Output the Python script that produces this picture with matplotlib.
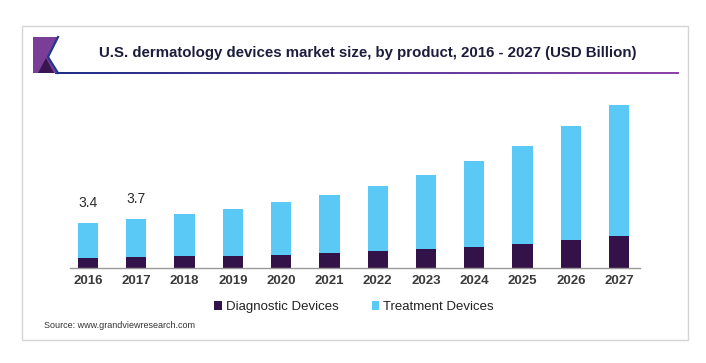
import numpy as np
import matplotlib.pyplot as plt
from matplotlib.patches import Rectangle, Polygon
from matplotlib.colors import LinearSegmentedColormap

# data (USD Billion)
years = ["2016", "2017", "2018", "2019", "2020", "2021",
         "2022", "2023", "2024", "2025", "2026", "2027"]
diagnostic = [0.73, 0.80, 0.88, 0.93, 1.00, 1.13,
              1.28, 1.43, 1.62, 1.83, 2.15, 2.43]
totals = [3.4, 3.7, 4.08, 4.46, 5.0, 5.5,
          6.2, 7.0, 8.05, 9.2, 10.7, 12.35]
treatment = [t - d for t, d in zip(totals, diagnostic)]
labelled = {0: "3.4", 1: "3.7"}

W, H = 706, 363
plt.rcParams['font.family'] = ['Liberation Sans', 'DejaVu Sans']
fig = plt.figure(figsize=(W / 100, H / 100), dpi=100)


def fx(px):
    return px / W


def fy(py):
    return 1 - py / H


# card with border
fig.patches.append(Rectangle((fx(22), fy(340)), fx(666), (340 - 26) / H,
                             transform=fig.transFigure, facecolor="white",
                             edgecolor="#d4d4d4", linewidth=1.0, zorder=-5))

# logo
fig.patches.append(Polygon([(fx(33), fy(37)), (fx(58), fy(37)), (fx(48), fy(57)),
                            (fx(58), fy(73)), (fx(33), fy(73))],
                           closed=True, transform=fig.transFigure,
                           facecolor="#7a3e98", edgecolor="none", zorder=2))
fig.patches.append(Polygon([(fx(38), fy(73)), (fx(46), fy(58)), (fx(54), fy(73))],
                           closed=True, transform=fig.transFigure,
                           facecolor="#3a1650", edgecolor="none", zorder=3))
fig.lines.append(plt.Line2D([fx(58), fx(48), fx(58)], [fy(37), fy(57), fy(73)],
                            transform=fig.transFigure, color="#1f3a8a",
                            linewidth=1.6, zorder=4))

# title underline with gradient
grad = np.linspace(0, 1, 256).reshape(1, -1)
ax_line = fig.add_axes([fx(55), fy(74.5), fx(624), 2.2 / H])
cmap = LinearSegmentedColormap.from_list("ul", ["#1e2f86", "#5a3a9a", "#8e44a8"])
ax_line.imshow(grad, aspect="auto", cmap=cmap)
ax_line.axis("off")

fig.text(fx(368), fy(53), "U.S. dermatology devices market size, by product, 2016 - 2027 (USD Billion)",
         ha="center", va="center", fontsize=10.8, fontweight="bold", color="#1c1c3c")

# bar chart
ax = fig.add_axes([fx(70), fy(268), fx(570), (268 - 95) / H])
x = np.arange(len(years))
ax.bar(x, diagnostic, width=0.42, color="#33124a", label="Diagnostic Devices", zorder=2)
ax.bar(x, treatment, width=0.42, bottom=diagnostic, color="#5bc9f5",
       label="Treatment Devices", zorder=2)

for i, txt in labelled.items():
    ax.text(x[i], totals[i] + 1.0, txt, ha="center", va="bottom",
            fontsize=10, color="#2a2a2a")

ax.set_xlim(-0.37, 11.43)
ax.set_ylim(0, 13.07)
ax.set_xticks(x)
ax.set_xticklabels(years, fontsize=9.5, fontweight="bold", color="#3a3a3a")
ax.tick_params(axis="x", length=0, pad=5)
ax.set_yticks([])
for side in ["top", "right", "left"]:
    ax.spines[side].set_visible(False)
ax.spines["bottom"].set_color("#999999")
ax.spines["bottom"].set_linewidth(1.0)
ax.patch.set_alpha(0)

leg = fig.legend(loc="center", bbox_to_anchor=(fx(354), fy(307)), ncol=2, frameon=False,
                 fontsize=9.5, handlelength=0.6, handleheight=0.6, handletextpad=0.3,
                 columnspacing=2.5)
for t in leg.get_texts():
    t.set_color("#222222")

fig.text(fx(44), fy(325), "Source: www.grandviewresearch.com", ha="left", va="center",
         fontsize=6.5, color="#333333")

fig.savefig("out.png", dpi=100)
